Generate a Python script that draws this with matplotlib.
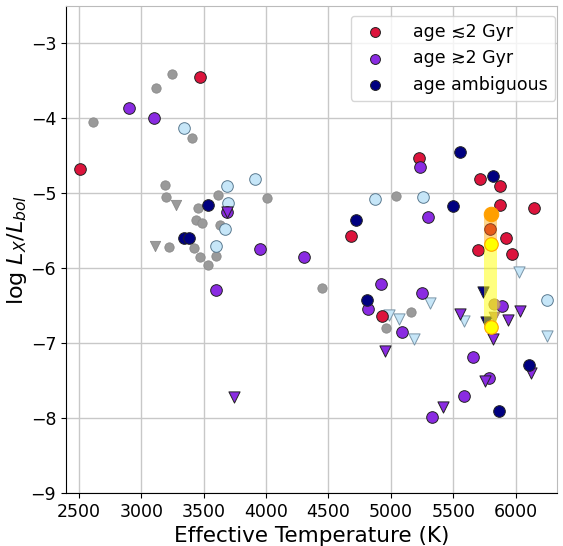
import numpy as np
import matplotlib
matplotlib.use("Agg")
import matplotlib.pyplot as plt

# young stars (age <= 2 Gyr)
young_T = [3473, 2506, 5224, 5713, 5874, 5874, 6146, 4679, 5697, 5919, 5967, 4925]
young_L = [-3.45, -4.68, -4.53, -4.81, -4.90, -5.15, -5.19, -5.57, -5.76, -5.59, -5.81, -6.64]

# old stars (age >= 2 Gyr)
old_T = [2899, 3099, 3684, 3947, 4302, 3598, 5231, 5299, 4919, 4813, 5251, 5090,
         5887, 5660, 5788, 5588, 5331]
old_L = [-3.86, -3.99, -5.25, -5.74, -5.85, -6.29, -4.65, -5.31, -6.21, -6.54, -6.33, -6.85,
         -6.51, -7.18, -7.47, -7.70, -7.99]
old_lim_T = [3684, 3741, 4952, 5551, 5940, 6034, 5820, 6120, 5753, 5414]
old_lim_L = [-5.25, -7.72, -7.11, -6.61, -6.69, -6.57, -6.95, -7.40, -7.50, -7.85]

# ambiguous age
amb_T = [3537, 3340, 3382, 5553, 5820, 5499, 4718, 4807, 6106, 5865]
amb_L = [-5.16, -5.60, -5.60, -4.45, -4.77, -5.17, -5.36, -6.43, -7.29, -7.90]
amb_lim_T = [5735, 5760]
amb_lim_L = [-6.32, -6.72]

# no age information
gray_T = [3245, 3117, 2615, 3404, 3193, 3195, 3618, 3457, 4008, 3441, 3490, 3630,
          3221, 3422, 3474, 3598, 3537, 5040, 4449, 5158, 4962]
gray_L = [-3.41, -3.60, -4.05, -4.26, -4.89, -5.05, -5.02, -5.19, -5.06, -5.35, -5.40, -5.42,
          -5.71, -5.73, -5.85, -5.83, -5.96, -5.04, -6.26, -6.59, -6.80]
gray_lim_T = [3275, 3107]
gray_lim_L = [-5.15, -5.70]

# other sample
lb_T = [3342, 3690, 3912, 3695, 3674, 3598, 4869, 5259, 6253]
lb_L = [-4.13, -4.90, -4.81, -5.13, -5.48, -5.70, -5.07, -5.05, -6.42]
lb_lim_T = [6028, 5313, 4984, 5066, 5186, 5585, 6248]
lb_lim_L = [-6.05, -6.47, -6.63, -6.68, -6.94, -6.71, -6.90]

# points behind the solar band
tan_T = [5826]
tan_L = [-6.48]
tan_lim_T = [5826]
tan_lim_L = [-6.65]

# Sun
sun_T = 5800
sun_max = -5.28
sun_mid = -5.47
sun_min_hi = -5.68
sun_min_lo = -6.78

fig = plt.figure(figsize=(5.63, 5.46), dpi=100)
ax = fig.add_axes([0.117, 0.097, 0.872, 0.892])

ax.grid(True, color='#c8c8c8', lw=1.0, zorder=0)

ax.scatter(gray_T, gray_L, s=45, c='#9a9a9a', edgecolors='#8a8a8a', lw=0.6, zorder=2)
ax.scatter(gray_lim_T, gray_lim_L, s=55, marker='v', c='#9a9a9a', edgecolors='#8a8a8a', lw=0.6, zorder=2)
ax.scatter(lb_T, lb_L, s=70, c='#c6e6f8', edgecolors='#5a7a90', lw=0.7, zorder=2)
ax.scatter(lb_lim_T, lb_lim_L, s=65, marker='v', c='#c6e6f8', edgecolors='#7a95a8', lw=0.7, zorder=2)
ax.scatter(tan_T, tan_L, s=65, c='#c49a72', edgecolors='#a08060', lw=0.6, zorder=4)
ax.scatter(tan_lim_T, tan_lim_L, s=60, marker='v', c='#c49a72', edgecolors='#a08060', lw=0.6, zorder=4)

ax.scatter(young_T, young_L, s=70, c='crimson', edgecolors='#222222', lw=0.7, zorder=3,
           label='age ≲2 Gyr')
ax.scatter(old_T, old_L, s=70, c='blueviolet', edgecolors='#222222', lw=0.7, zorder=3,
           label='age ≳2 Gyr')
ax.scatter(old_lim_T, old_lim_L, s=65, marker='v', c='blueviolet', edgecolors='#222222', lw=0.7,
           zorder=3)
ax.scatter(amb_T, amb_L, s=70, c='navy', edgecolors='#222222', lw=0.7, zorder=3,
           label='age ambiguous')
ax.scatter(amb_lim_T, amb_lim_L, s=65, marker='v', c='navy', edgecolors='#222222', lw=0.7, zorder=3)

# solar cycle range
ax.fill_betweenx([sun_min_lo, sun_min_hi], sun_T - 50, sun_T + 50, color='yellow', alpha=0.5,
                 lw=0, zorder=5)
ax.fill_betweenx([sun_min_hi, sun_max], sun_T - 50, sun_T + 50, color='orange', alpha=0.45,
                 lw=0, zorder=5)
ax.scatter([sun_T], [sun_max], s=110, c='#ff9f00', edgecolors='#ff9f00', lw=0.7, zorder=6)
ax.scatter([sun_T - 9], [sun_mid], s=70, c='#e85c1a', edgecolors='#8a4020', lw=0.7, zorder=6)
ax.scatter([sun_T, sun_T], [sun_min_hi, sun_min_lo], s=95, c='yellow', edgecolors='orange',
           lw=0.8, zorder=6)

ax.set_xlim(2395, 6330)
ax.set_ylim(-9, -2.5)
ax.set_xticks(np.arange(2500, 6001, 500))
ax.set_yticks(np.arange(-9, -2.9, 1))
ax.tick_params(labelsize=12.5)
ax.set_xlabel('Effective Temperature (K)', fontsize=15.5)
ax.set_ylabel(r'log $L_X/L_{bol}$', fontsize=16, labelpad=1)
for sp in ['top', 'right']:
    ax.spines[sp].set_color('#bbbbbb')

ax.legend(loc='upper right', bbox_to_anchor=(1.014, 0.998), fontsize=12.5, markerscale=0.85,
          handletextpad=1.2, framealpha=0.8)

fig.savefig('out.png', dpi=100)
